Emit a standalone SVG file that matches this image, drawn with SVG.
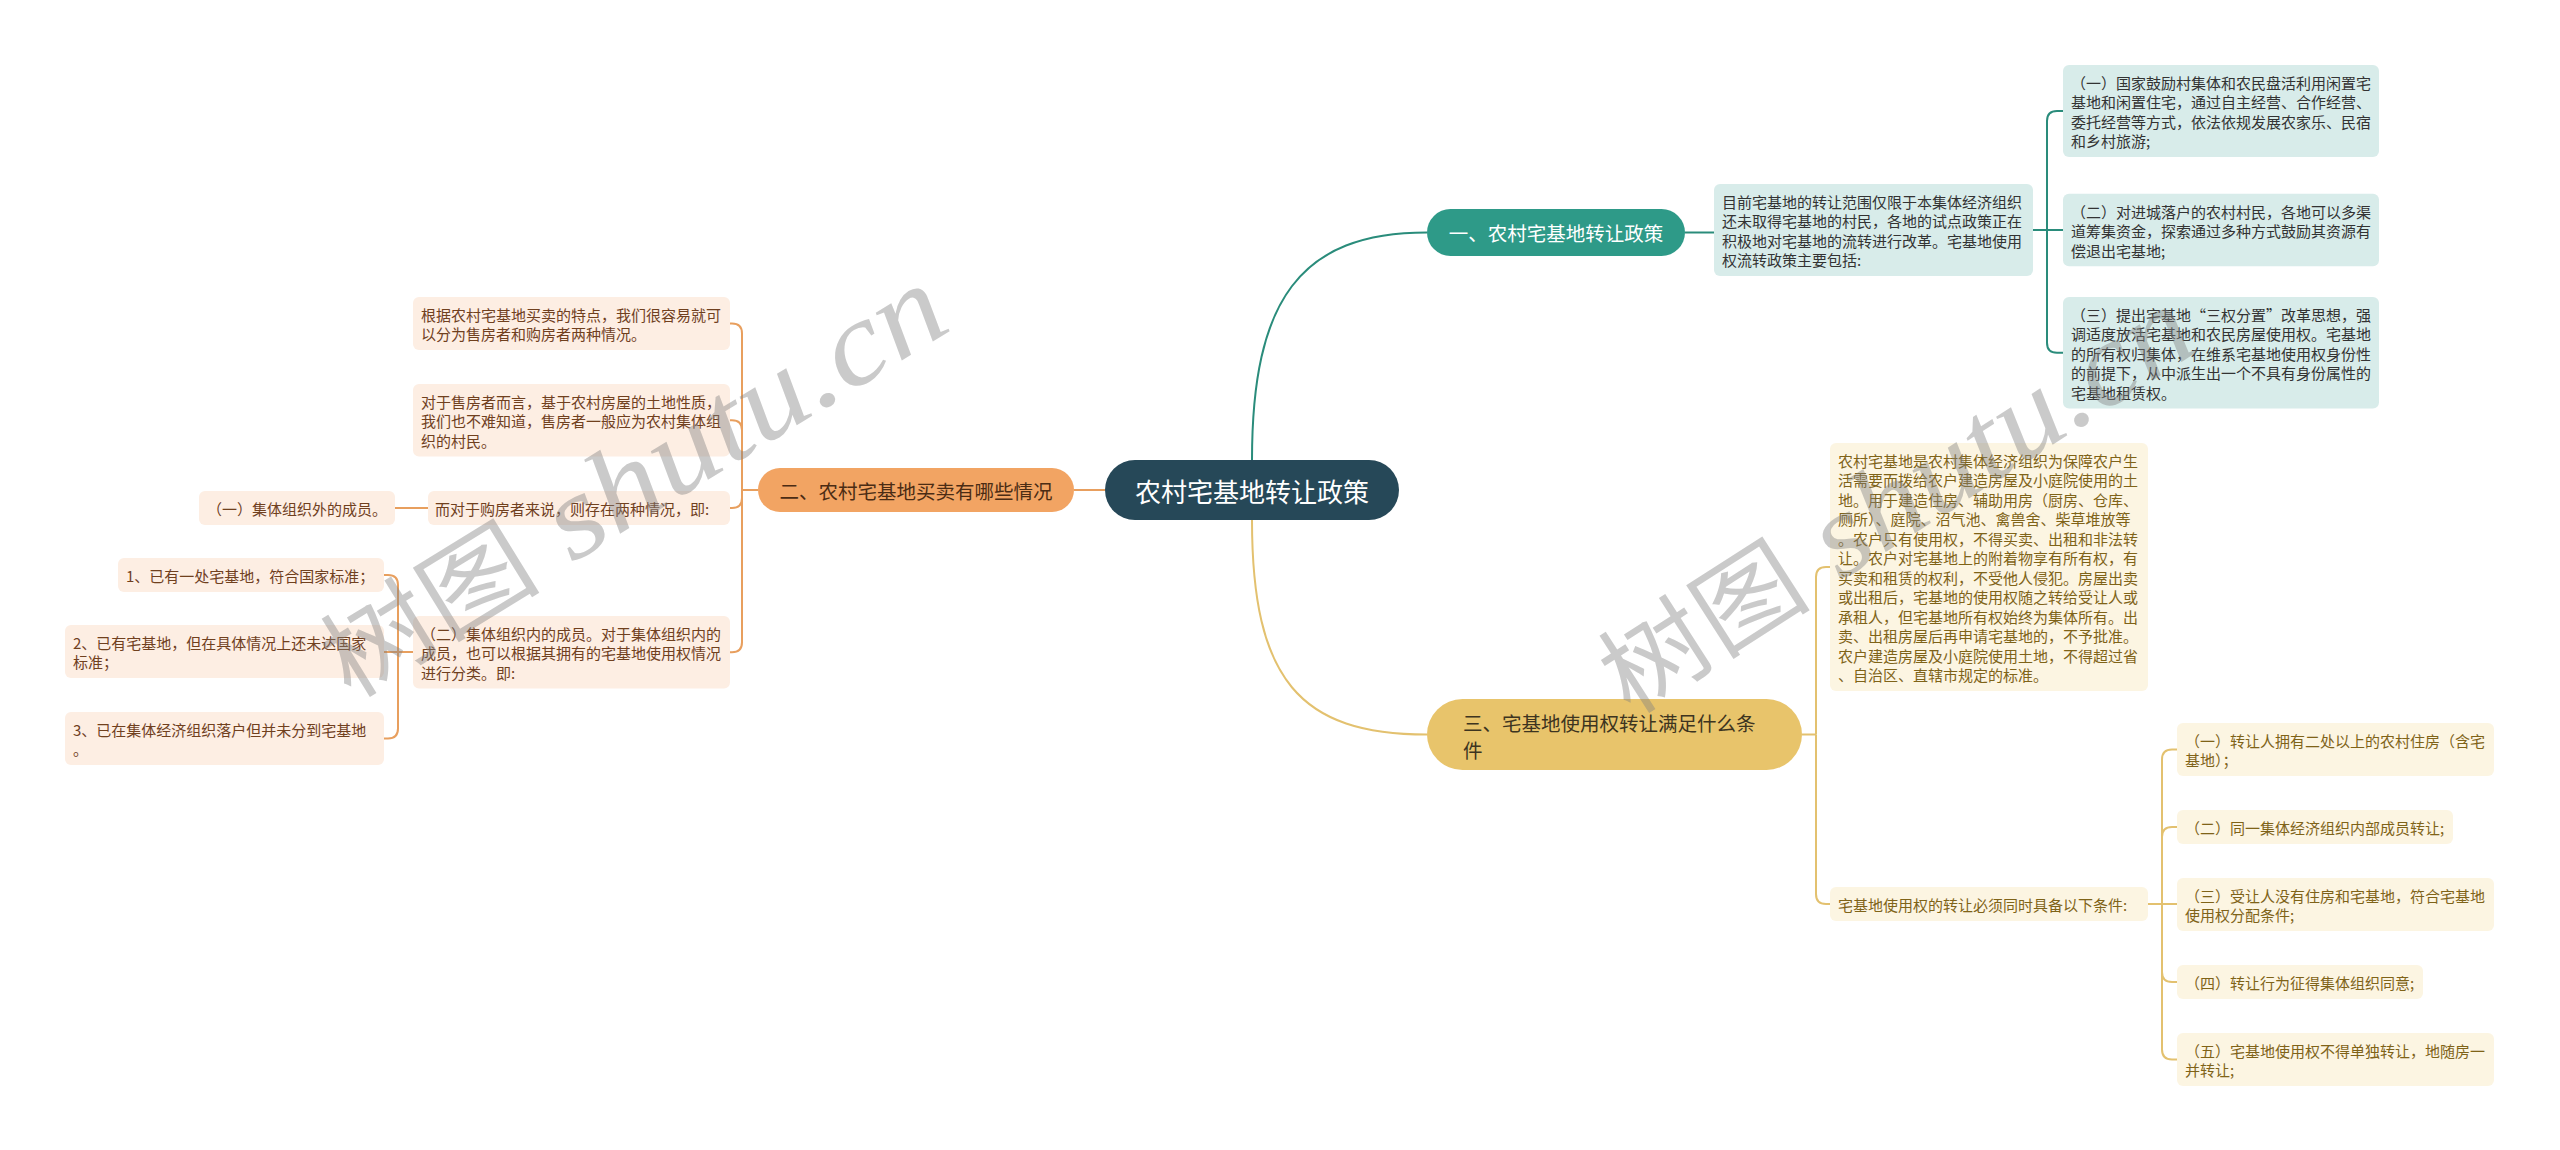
<svg xmlns="http://www.w3.org/2000/svg" width="2560" height="1150" viewBox="0 0 2560 1150">
<style>
text{font-family:"Noto Sans CJK SC","Noto Sans",sans-serif;dominant-baseline:central}
.t{font-size:15px}
.tt{fill:#333333}
.ot{fill:#70401e}
.gt{fill:#7f6318}
.tb{fill:#d8ecea}
.ob{fill:#fdeee3}
.gb{fill:#fcf5e2}
.lt{fill:none;stroke:#2a8c7b;stroke-width:2}
.lo{fill:none;stroke:#e89f5e;stroke-width:2}
.lg{fill:none;stroke:#e3c16f;stroke-width:2}
.wm{font-family:"Noto Sans CJK SC",sans-serif;font-size:100px;fill:#808080;fill-opacity:0.42;dominant-baseline:auto}
.wl{font-family:"Liberation Serif",serif;font-style:italic;font-size:118px}
</style>
<rect width="2560" height="1150" fill="#ffffff"/>
<g id="connectors">
<path class="lt" stroke-width="2.5" d="M1252,460 C1252,300 1300,232.5 1427,232.5"/>
<path class="lt" d="M1685,232.5 L1714,232.5"/>
<path class="lt" d="M2033,230 L2063,230"/>
<path class="lt" d="M2047,230 L2047,121 Q2047,111 2057,111 L2063,111"/>
<path class="lt" d="M2047,230 L2047,342.75 Q2047,352.75 2057,352.75 L2063,352.75"/>
<path class="lo" stroke-width="2.5" d="M1105,490 L1074,490"/>
<path class="lo" d="M758,490 L742,490"/>
<path class="lo" d="M742,490 L742,333.5 Q742,323.5 732,323.5 L730,323.5"/>
<path class="lo" d="M742,430.25 Q742,420.25 732,420.25 L730,420.25"/>
<path class="lo" d="M742,498 Q742,508 732,508 L730,508"/>
<path class="lo" d="M742,490 L742,642.25 Q742,652.25 732,652.25 L730,652.25"/>
<path class="lo" d="M428,508 L395,508"/>
<path class="lo" d="M413,652 L384,652"/>
<path class="lo" d="M398,652 L398,585 Q398,575 388,575 L384,575"/>
<path class="lo" d="M398,652 L398,728.5 Q398,738.5 388,738.5 L384,738.5"/>
<path class="lg" stroke-width="2.5" d="M1252,520 C1252,680 1300,734.5 1427,734.5"/>
<path class="lg" d="M1802,734.5 L1816,734.5"/>
<path class="lg" d="M1816,734.5 L1816,577 Q1816,567 1826,567 L1830,567"/>
<path class="lg" d="M1816,734.5 L1816,894 Q1816,904 1826,904 L1830,904"/>
<path class="lg" d="M2148,904 L2177,904"/>
<path class="lg" d="M2162,904 L2162,759.5 Q2162,749.5 2172,749.5 L2177,749.5"/>
<path class="lg" d="M2162,837 Q2162,827 2172,827 L2177,827"/>
<path class="lg" d="M2162,972 Q2162,982 2172,982 L2177,982"/>
<path class="lg" d="M2162,904 L2162,1049.5 Q2162,1059.5 2172,1059.5 L2177,1059.5"/>
</g>
<g id="root">
<rect x="1105" y="460" width="294" height="60" rx="30" fill="#264858"/>
<text x="1252" y="490" font-size="26" fill="#ffffff" text-anchor="middle">农村宅基地转让政策</text>
</g>
<g id="b1">
<rect x="1427" y="209" width="258" height="47" rx="23.5" fill="#2e9a88"/>
<text x="1556" y="232.5" font-size="19.5" fill="#ffffff" text-anchor="middle">一、农村宅基地转让政策</text>
</g>
<g id="tc">
<rect class="tb" x="1714" y="184" width="319" height="92" rx="6"/>
<text class="t tt"><tspan x="1722" y="200.75">目前宅基地的转让范围仅限于本集体经济组织</tspan><tspan x="1722" y="220.25">还未取得宅基地的村民，各地的试点政策正在</tspan><tspan x="1722" y="239.75">积极地对宅基地的流转进行改革。宅基地使用</tspan><tspan x="1722" y="259.25">权流转政策主要包括:</tspan></text>
</g>
<g id="t1">
<rect class="tb" x="2063" y="65" width="316" height="92" rx="6"/>
<text class="t tt"><tspan x="2071" y="81.75">（一）国家鼓励村集体和农民盘活利用闲置宅</tspan><tspan x="2071" y="101.25">基地和闲置住宅，通过自主经营、合作经营、</tspan><tspan x="2071" y="120.75">委托经营等方式，依法依规发展农家乐、民宿</tspan><tspan x="2071" y="140.25">和乡村旅游;</tspan></text>
</g>
<g id="t2">
<rect class="tb" x="2063" y="193.75" width="316" height="72.5" rx="6"/>
<text class="t tt"><tspan x="2071" y="210.5">（二）对进城落户的农村村民，各地可以多渠</tspan><tspan x="2071" y="230">道筹集资金，探索通过多种方式鼓励其资源有</tspan><tspan x="2071" y="249.5">偿退出宅基地;</tspan></text>
</g>
<g id="t3">
<rect class="tb" x="2063" y="297" width="316" height="111.5" rx="6"/>
<text class="t tt"><tspan x="2071" y="313.75">（三）提出宅基地“三权分置”改革思想，强</tspan><tspan x="2071" y="333.25">调适度放活宅基地和农民房屋使用权。宅基地</tspan><tspan x="2071" y="352.75">的所有权归集体，在维系宅基地使用权身份性</tspan><tspan x="2071" y="372.25">的前提下，从中派生出一个不具有身份属性的</tspan><tspan x="2071" y="391.75">宅基地租赁权。</tspan></text>
</g>
<g id="b2">
<rect x="758" y="468" width="316" height="44" rx="22" fill="#f2a463"/>
<text x="916" y="490" font-size="19.5" fill="#4b2c14" text-anchor="middle">二、农村宅基地买卖有哪些情况</text>
</g>
<g id="o1">
<rect class="ob" x="413" y="297" width="317" height="53" rx="6"/>
<text class="t ot"><tspan x="421" y="313.75">根据农村宅基地买卖的特点，我们很容易就可</tspan><tspan x="421" y="333.25">以分为售房者和购房者两种情况。</tspan></text>
</g>
<g id="o2">
<rect class="ob" x="413" y="384" width="317" height="72.5" rx="6"/>
<text class="t ot"><tspan x="421" y="400.75">对于售房者而言，基于农村房屋的土地性质，</tspan><tspan x="421" y="420.25">我们也不难知道，售房者一般应为农村集体组</tspan><tspan x="421" y="439.75">织的村民。</tspan></text>
</g>
<g id="o3">
<rect class="ob" x="428" y="491" width="302" height="34" rx="6"/>
<text class="t ot" x="435" y="508">而对于购房者来说，则存在两种情况，即:</text>
</g>
<g id="o4">
<rect class="ob" x="199" y="491" width="196" height="34" rx="6"/>
<text class="t ot" x="207" y="508">（一）集体组织外的成员。</text>
</g>
<g id="o5">
<rect class="ob" x="413" y="616" width="317" height="72.5" rx="6"/>
<text class="t ot"><tspan x="421" y="632.75">（二）集体组织内的成员。对于集体组织内的</tspan><tspan x="421" y="652.25">成员，也可以根据其拥有的宅基地使用权情况</tspan><tspan x="421" y="671.75">进行分类。即:</tspan></text>
</g>
<g id="n1">
<rect class="ob" x="118" y="558" width="266" height="34" rx="6"/>
<text class="t ot" x="126" y="575">1、已有一处宅基地，符合国家标准；</text>
</g>
<g id="n2">
<rect class="ob" x="65" y="625" width="319" height="53" rx="6"/>
<text class="t ot"><tspan x="73" y="641.75">2、已有宅基地，但在具体情况上还未达国家</tspan><tspan x="73" y="661.25">标准；</tspan></text>
</g>
<g id="n3">
<rect class="ob" x="65" y="712" width="319" height="53" rx="6"/>
<text class="t ot"><tspan x="73" y="728.75">3、已在集体经济组织落户但并未分到宅基地</tspan><tspan x="73" y="748.25">。</tspan></text>
</g>
<g id="b3">
<rect x="1427" y="699" width="375" height="71" rx="35.5" fill="#e8c46b"/>
<text font-size="19.5" fill="#3d3420"><tspan x="1463" y="722">三、宅基地使用权转让满足什么条</tspan><tspan x="1463" y="749">件</tspan></text>
</g>
<g id="gc1">
<rect class="gb" x="1830" y="443" width="318" height="248" rx="6"/>
<text class="t gt"><tspan x="1838" y="459.75">农村宅基地是农村集体经济组织为保障农户生</tspan><tspan x="1838" y="479.25">活需要而拨给农户建造房屋及小庭院使用的土</tspan><tspan x="1838" y="498.75">地。用于建造住房、辅助用房（厨房、仓库、</tspan><tspan x="1838" y="518.25">厕所）、庭院、沼气池、禽兽舍、柴草堆放等</tspan><tspan x="1838" y="537.75">。农户只有使用权，不得买卖、出租和非法转</tspan><tspan x="1838" y="557.25">让。农户对宅基地上的附着物享有所有权，有</tspan><tspan x="1838" y="576.75">买卖和租赁的权利，不受他人侵犯。房屋出卖</tspan><tspan x="1838" y="596.25">或出租后，宅基地的使用权随之转给受让人或</tspan><tspan x="1838" y="615.75">承租人，但宅基地所有权始终为集体所有。出</tspan><tspan x="1838" y="635.25">卖、出租房屋后再申请宅基地的，不予批准。</tspan><tspan x="1838" y="654.75">农户建造房屋及小庭院使用土地，不得超过省</tspan><tspan x="1838" y="674.25">、自治区、直辖市规定的标准。</tspan></text>
</g>
<g id="gc2">
<rect class="gb" x="1830" y="887" width="318" height="34" rx="6"/>
<text class="t gt" x="1838" y="904">宅基地使用权的转让必须同时具备以下条件:</text>
</g>
<g id="g1">
<rect class="gb" x="2177" y="723" width="317" height="53" rx="6"/>
<text class="t gt"><tspan x="2185" y="739.75">（一）转让人拥有二处以上的农村住房（含宅</tspan><tspan x="2185" y="759.25">基地）；</tspan></text>
</g>
<g id="g2">
<rect class="gb" x="2177" y="810" width="276" height="34" rx="6"/>
<text class="t gt" x="2185" y="827">（二）同一集体经济组织内部成员转让;</text>
</g>
<g id="g3">
<rect class="gb" x="2177" y="878" width="317" height="53" rx="6"/>
<text class="t gt"><tspan x="2185" y="894.75">（三）受让人没有住房和宅基地，符合宅基地</tspan><tspan x="2185" y="914.25">使用权分配条件;</tspan></text>
</g>
<g id="g4">
<rect class="gb" x="2177" y="965" width="246" height="34" rx="6"/>
<text class="t gt" x="2185" y="982">（四）转让行为征得集体组织同意;</text>
</g>
<g id="g5">
<rect class="gb" x="2177" y="1033" width="317" height="53" rx="6"/>
<text class="t gt"><tspan x="2185" y="1049.75">（五）宅基地使用权不得单独转让，地随房一</tspan><tspan x="2185" y="1069.25">并转让;</tspan></text>
</g>
<g id="watermarks">
<text class="wm" transform="translate(350,700) rotate(-31.6)" textLength="710" lengthAdjust="spacingAndGlyphs">树图<tspan class="wl"> shutu.cn</tspan></text>
<text class="wm" transform="translate(1630,716) rotate(-32.7)" textLength="680" lengthAdjust="spacingAndGlyphs">树图<tspan class="wl"> shutu.cn</tspan></text>
</g>
</svg>
